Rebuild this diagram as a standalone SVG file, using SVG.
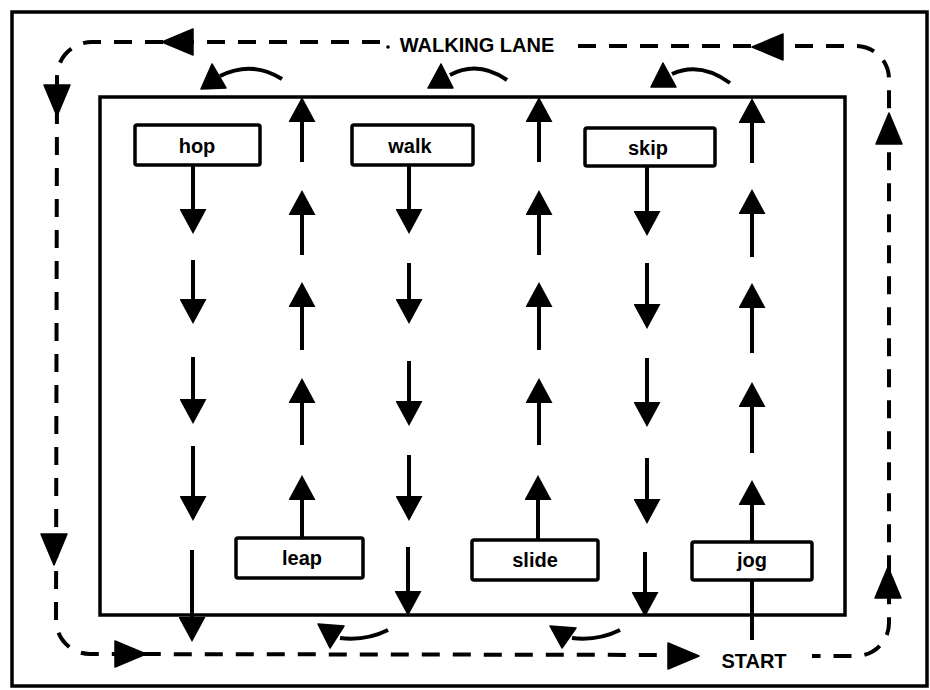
<svg xmlns="http://www.w3.org/2000/svg" width="930" height="690" viewBox="0 0 930 690">
<style>
.frame{fill:none;stroke:#000;stroke-width:3.5}
.box{fill:#fff;stroke:#000;stroke-width:3.5}
.lbl{font-family:"Liberation Sans",Arial,sans-serif;font-weight:bold;font-size:20px;fill:#000;text-anchor:middle}
.ln{fill:none;stroke:#000;stroke-width:4}
.arr{fill:none;stroke:#000;stroke-width:4;marker-end:url(#ah)}
.lane{fill:none;stroke:#000;stroke-width:4;stroke-dasharray:18 13}
.head{fill:#000;stroke:#000;stroke-width:1.5;stroke-linejoin:round}
</style>
<defs>
<marker id="ah" viewBox="0 0 25 27" refX="1" refY="13.5" markerWidth="25" markerHeight="27" markerUnits="userSpaceOnUse" orient="auto">
<path d="M0,0 L25,13.5 L0,27 Z" fill="#000"/>
</marker>
<path id="lh" d="M0,0 L-31,-13 L-31,13 Z"/>
</defs>
<rect width="930" height="690" fill="#fff"/>
<rect class="frame" x="12" y="12" width="915" height="674"/>
<rect class="frame" x="100" y="97" width="745" height="518"/>

<g id="walking-lane">
<path class="lane" d="M380,42 L92,42 A35,35 0 0 0 57,77 L56,620 A34,34 0 0 0 90,654 L700,655"/>
<path class="lane" d="M578,46 L856,46 A33,33 0 0 1 889,79 L889,623 A33,33 0 0 1 856,656 L812,656"/>
<circle cx="388" cy="47" r="1.8" fill="#000"/>
<g class="head">
<use href="#lh" transform="translate(162,42) rotate(180)"/>
<use href="#lh" transform="translate(752,47) rotate(180)"/>
<use href="#lh" transform="translate(57,116) rotate(90)"/>
<use href="#lh" transform="translate(54,565) rotate(90)"/>
<use href="#lh" transform="translate(146,654)"/>
<use href="#lh" transform="translate(699,656)"/>
<use href="#lh" transform="translate(889,113) rotate(-90)"/>
<use href="#lh" transform="translate(888,567) rotate(-90)"/>
</g>
<text class="lbl" x="477" y="52">WALKING LANE</text>
<text class="lbl" x="754" y="668">START</text>
</g>

<g id="connectors">
<path class="arr" d="M193,165 L193,210"/>
<path class="arr" d="M193,260 L193,300"/>
<path class="arr" d="M193,357 L193,400"/>
<path class="arr" d="M193,446 L193,497"/>
<path class="arr" d="M192,550 L192,618"/>
<path class="arr" d="M409,165 L409,210"/>
<path class="arr" d="M409,263 L409,300"/>
<path class="arr" d="M409,361 L409,402"/>
<path class="arr" d="M409,455 L409,497"/>
<path class="arr" d="M408,547 L408,592"/>
<path class="arr" d="M647,166 L647,212"/>
<path class="arr" d="M647,263 L647,305"/>
<path class="arr" d="M647,358 L647,403"/>
<path class="arr" d="M647,458 L647,500"/>
<path class="arr" d="M645,552 L645,593"/>
<path class="arr" d="M302,162 L302,121"/>
<path class="arr" d="M302,255 L302,214"/>
<path class="arr" d="M302,350 L302,306"/>
<path class="arr" d="M302,445 L302,402"/>
<path class="arr" d="M302,538 L302,499"/>
<path class="arr" d="M539,162 L539,121"/>
<path class="arr" d="M539,255 L539,214"/>
<path class="arr" d="M539,350 L539,306"/>
<path class="arr" d="M539,445 L539,402"/>
<path class="arr" d="M538,540 L538,499"/>
<path class="arr" d="M752,163 L752,122"/>
<path class="arr" d="M752,257 L752,213"/>
<path class="arr" d="M752,353 L752,307"/>
<path class="arr" d="M752,453 L752,406"/>
<path class="arr" d="M752,542 L752,504"/>
<path class="ln" d="M752,580 L752,640"/>
<path class="ln" d="M282,79 Q252,60 220,76"/>
<polygon class="head" points="212,64 201,89 226,88"/>
<path class="ln" d="M507,80 Q478,60 450,75"/>
<polygon class="head" points="441,64 428,88 453,88"/>
<path class="ln" d="M730,83 Q700,61 672,74"/>
<polygon class="head" points="663,63 651,87 676,87"/>
<path class="ln" d="M388,630 Q366,641 340,638"/>
<polygon class="head" points="318,624 344,626 330,648"/>
<path class="ln" d="M620,630 Q598,641 572,638"/>
<polygon class="head" points="550,626 576,628 562,648"/>
</g>

<g id="hop"><rect class="box" x="135" y="125" width="125" height="40" rx="2"/><text class="lbl" x="197" y="153">hop</text></g>
<g id="walk"><rect class="box" x="352" y="125" width="121" height="40" rx="2"/><text class="lbl" x="410" y="153">walk</text></g>
<g id="skip"><rect class="box" x="585" y="128" width="130" height="38" rx="2"/><text class="lbl" x="648" y="155">skip</text></g>
<g id="leap"><rect class="box" x="236" y="538" width="127" height="40" rx="2"/><text class="lbl" x="302" y="565">leap</text></g>
<g id="slide"><rect class="box" x="472" y="540" width="126" height="40" rx="2"/><text class="lbl" x="535" y="567">slide</text></g>
<g id="jog"><rect class="box" x="692" y="542" width="120" height="38" rx="2"/><text class="lbl" x="752" y="567">jog</text></g>
</svg>
